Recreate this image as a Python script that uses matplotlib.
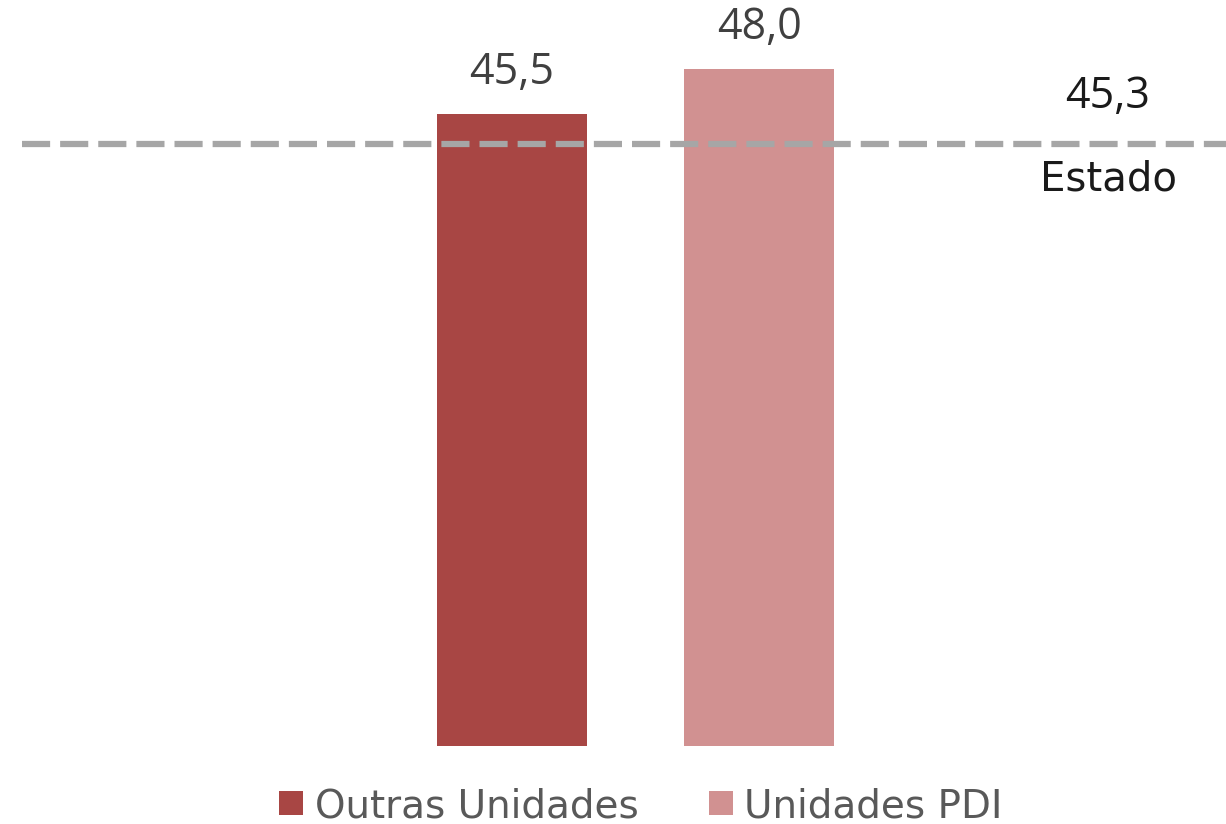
import matplotlib
matplotlib.use("Agg")
import matplotlib.pyplot as plt
from matplotlib.patches import Patch

# Data
series = ["Outras Unidades", "Unidades PDI"]
values = [45.5, 48.0]
colors = ["#A84644", "#D19191"]
ref_value = 45.3
ref_label = "Estado"

plt.rcParams['font.family'] = ['Open Sans', 'DejaVu Sans']

fig = plt.figure(figsize=(12.26, 8.24), dpi=100)
W, H = 1226, 824
# axes from px x 22..1226, y 20..746 (top-based)
ax = fig.add_axes([22 / W, (H - 746) / H, (1226 - 22) / W, (746 - 20) / H])

x = [0, 1]
bars = ax.bar(x, values, width=150 / 247, color=colors)
ax.set_xlim((22 - 512) / 247, (1226 - 512) / 247)
ax.set_ylim(10.39, 10.39 + 726 / 18)
for b, v in zip(bars, values):
    ax.annotate(f"{v:.1f}".replace('.', ','), (b.get_x() + b.get_width() / 2, v),
                xytext=(0, 14), textcoords='offset points', ha='center', va='bottom',
                fontsize=31, color='#404040')
ax.axis('off')

# Reference line on secondary scale
ax2 = ax.twinx()
ax2.set_ylim(0, ref_value / (602 / 726))
ax2.axhline(ref_value, color='#A6A6A6', lw=4.5, ls=(0, (4.5, 1.6)))
xt = (1108 - 512) / 247
ax2.annotate(f"{ref_value:.1f}".replace('.', ','), (xt, ref_value), xytext=(0, 18),
             textcoords='offset points', ha='center', va='bottom', fontsize=31, color='#1a1a1a')
ax2.annotate(ref_label, (xt, ref_value), xytext=(0, -11),
             textcoords='offset points', ha='center', va='top', fontsize=29,
             color='#1a1a1a', family=['DejaVu Sans'])
ax2.axis('off')

handles = [Patch(facecolor=c, edgecolor='none') for c in colors]
leg = fig.legend(handles, series, loc='center', bbox_to_anchor=(641 / W, (H - 806) / H),
                 ncol=2, frameon=False, handlelength=0.62, handleheight=0.57,
                 handletextpad=0.3, columnspacing=1.8, labelcolor='#595959',
                 prop={'family': ['DejaVu Sans'], 'size': 28})

fig.savefig("out.png", dpi=100)
